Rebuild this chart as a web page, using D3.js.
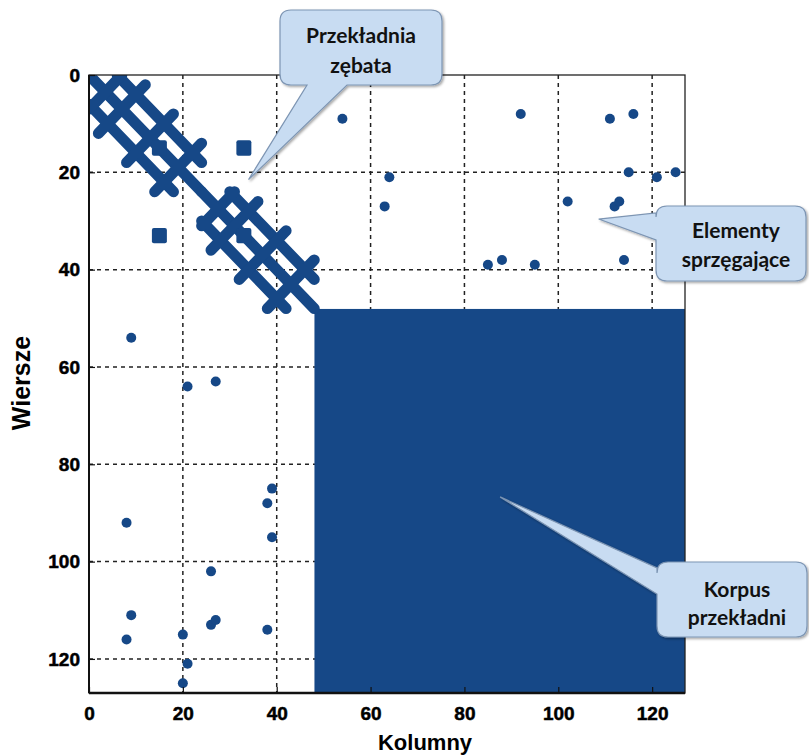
<!DOCTYPE html>
<html>
<head>
<meta charset="utf-8">
<script src="https://cdn.jsdelivr.net/npm/d3@7"></script>
<style>
  body { margin: 0; background: #ffffff; }
  .tick text { font-family: "Liberation Sans", Arial, sans-serif; font-weight: bold; }
</style>
</head>
<body>
<div id="chart"></div>
<script>
// size of the matrix (spy plot limits)
var nRows = 127, nCols = 127;
var xTicks = [0, 20, 40, 60, 80, 100, 120];
var yTicks = [0, 20, 40, 60, 80, 100, 120];

// runs of nonzeros along (anti)diagonals: [row0, col0, row1, col1]
var bandRuns = [
    // first gear block
    [0, 0, 24, 24], [0, 6, 18, 24], [6, 0, 24, 18],
    [7, 0, 0, 7], [12, 2, 2, 12], [18, 8, 8, 18], [24, 14, 14, 24],
    // second gear block
    [24, 24, 48, 48], [24, 30, 42, 48], [30, 24, 48, 42],
    [31, 24, 24, 31], [36, 26, 26, 36], [42, 32, 32, 42], [48, 38, 38, 48]
];

// small dense blocks: [row0, row1, col0, col1]
var smallBlocks = [[14, 16, 14, 16], [14, 16, 32, 34], [32, 34, 14, 16], [32, 34, 32, 34]];

// gearbox housing block: [row0, row1, col0, col1]
var bodyBlock = [49, 126, 49, 126];

// coupling elements (single entries)
var couplingRows = [9, 8, 9, 8, 21, 27, 20, 21, 20, 26, 27, 26, 39, 38, 39, 38,
                    54, 64, 63, 85, 88, 95, 92, 102, 111, 116, 113, 112, 114, 115, 121, 125];
var couplingCols = [54, 92, 111, 116, 64, 63, 115, 121, 125, 102, 112, 113, 85, 88, 95, 114,
                    9, 21, 27, 39, 38, 39, 8, 26, 9, 8, 26, 27, 38, 20, 21, 20];

// callouts: text, box in page pixels, pointer tip in matrix coords (col, row)
var notes = [
    { lines: ["Przekładnia", "zębata"], box: [280, 10, 162, 75], side: "bottom", base: [307, 347], tip: [34, 21.5], ty: [43, 73] },
    { lines: ["Elementy", "sprzęgające"], box: [656, 206, 150, 75], side: "left", base: [213, 240], tip: [108.6, 29.6], ty: [238, 267] },
    { lines: ["Korpus", "przekładni"], box: [657, 562, 150, 75], side: "left", base: [568, 594], tip: [87.6, 86.7], ty: [597, 625] }
];

var W = 809, H = 755;
var margin = { top: 75, right: 124, bottom: 62, left: 89 },
    width = W - margin.left - margin.right,
    height = H - margin.top - margin.bottom;

var x = d3.scaleLinear().domain([0, nCols]).range([0, width]);
var y = d3.scaleLinear().domain([0, nRows]).range([0, height]);

var markColor = "#164887";
var rad = 5;

var root = d3.select("#chart").append("svg")
    .attr("width", W)
    .attr("height", H);

var defs = root.append("defs");
defs.append("clipPath").attr("id", "plotclip")
    .append("rect").attr("width", width).attr("height", height);
var sh = defs.append("filter").attr("id", "shadow")
    .attr("x", "-10%").attr("y", "-10%").attr("width", "130%").attr("height", "130%");
sh.append("feDropShadow").attr("dx", 1.5).attr("dy", 1.5)
    .attr("stdDeviation", 1.2).attr("flood-color", "#000").attr("flood-opacity", 0.35);

var svg = root.append("g")
    .attr("transform", "translate(" + margin.left + "," + margin.top + ")");

// grid
svg.append("g")
    .selectAll("line")
    .data(xTicks.filter(function (d) { return d > 0; }))
    .enter().append("line")
    .attr("x1", function (d) { return x(d); })
    .attr("x2", function (d) { return x(d); })
    .attr("y1", 0).attr("y2", height)
    .attr("stroke", "#222").attr("stroke-width", 1.5)
    .attr("stroke-dasharray", "4,4");
svg.append("g")
    .selectAll("line")
    .data(yTicks.filter(function (d) { return d > 0; }))
    .enter().append("line")
    .attr("y1", function (d) { return y(d); })
    .attr("y2", function (d) { return y(d); })
    .attr("x1", 0).attr("x2", width)
    .attr("stroke", "#222").attr("stroke-width", 1.5)
    .attr("stroke-dasharray", "4,4");

var marks = svg.append("g").attr("clip-path", "url(#plotclip)");

// housing block
marks.append("rect")
    .attr("x", x(bodyBlock[2]) - 4.5)
    .attr("y", y(bodyBlock[0]) - 4.5)
    .attr("width", x(bodyBlock[3]) - x(bodyBlock[2]) + 10)
    .attr("height", y(bodyBlock[1]) - y(bodyBlock[0]) + 10)
    .attr("fill", markColor);

// gear band
marks.selectAll("line.run")
    .data(bandRuns)
    .enter().append("line")
    .attr("x1", function (d) { return x(d[1]); })
    .attr("y1", function (d) { return y(d[0]); })
    .attr("x2", function (d) { return x(d[3]); })
    .attr("y2", function (d) { return y(d[2]); })
    .attr("stroke", markColor)
    .attr("stroke-width", 11)
    .attr("stroke-linecap", "round");

// small blocks
marks.selectAll("rect.sb")
    .data(smallBlocks)
    .enter().append("rect")
    .attr("x", function (d) { return x(d[2]) - 2.8; })
    .attr("y", function (d) { return y(d[0]) - 2.8; })
    .attr("width", function (d) { return x(d[3]) - x(d[2]) + 5.6; })
    .attr("height", function (d) { return y(d[1]) - y(d[0]) + 5.6; })
    .attr("rx", 2)
    .attr("fill", markColor);

// coupling dots
marks.selectAll("circle")
    .data(couplingRows.map(function (r, i) { return [r, couplingCols[i]]; }))
    .enter().append("circle")
    .attr("cx", function (d) { return x(d[1]); })
    .attr("cy", function (d) { return y(d[0]); })
    .attr("r", rad)
    .attr("fill", markColor);

// frame
svg.append("rect")
    .attr("width", width).attr("height", height)
    .attr("fill", "none").attr("stroke", "#222").attr("stroke-width", 1.3);
svg.append("line").attr("x1", 0).attr("x2", 0).attr("y1", 0).attr("y2", height)
    .attr("stroke", "#111").attr("stroke-width", 2);
svg.append("line").attr("x1", 0).attr("x2", width).attr("y1", height).attr("y2", height)
    .attr("stroke", "#111").attr("stroke-width", 2.4);

// axes
var xAxis = svg.append("g")
    .attr("transform", "translate(0," + height + ")")
    .call(d3.axisBottom(x).tickValues(xTicks).tickSize(-6).tickPadding(14));
var yAxis = svg.append("g")
    .call(d3.axisLeft(y).tickValues(yTicks).tickSize(-6).tickPadding(9));
[xAxis, yAxis].forEach(function (a) {
    a.select(".domain").remove();
    a.selectAll(".tick line").attr("stroke", "#111").attr("stroke-width", 1.2);
    a.selectAll(".tick text").style("font-size", "19px").attr("fill", "#000")
        .attr("stroke", "#000").attr("stroke-width", 0.5);
});

// axis titles
root.append("text")
    .attr("x", margin.left + width / 2 + 38)
    .attr("y", 750)
    .attr("text-anchor", "middle")
    .style("font-family", "Liberation Sans, Arial, sans-serif")
    .style("font-weight", "bold")
    .style("font-size", "22px")
    .text("Kolumny");
root.append("text")
    .attr("transform", "translate(30,383) rotate(-90)")
    .attr("text-anchor", "middle")
    .style("font-family", "Liberation Sans, Arial, sans-serif")
    .style("font-weight", "bold")
    .style("font-size", "25px")
    .text("Wiersze");

// callouts
function calloutPath(n) {
    var bx = n.box[0], by = n.box[1], bw = n.box[2], bh = n.box[3], r = 11;
    var x0 = bx, y0 = by, x1 = bx + bw, y1 = by + bh;
    var tx = margin.left + x(n.tip[0]), ty = margin.top + y(n.tip[1]);
    var p = d3.path();
    p.moveTo(x0 + r, y0);
    p.lineTo(x1 - r, y0);
    p.quadraticCurveTo(x1, y0, x1, y0 + r);
    p.lineTo(x1, y1 - r);
    p.quadraticCurveTo(x1, y1, x1 - r, y1);
    if (n.side === "bottom") {
        p.lineTo(n.base[1], y1);
        p.lineTo(tx, ty);
        p.lineTo(n.base[0], y1);
    }
    p.lineTo(x0 + r, y1);
    p.quadraticCurveTo(x0, y1, x0, y1 - r);
    if (n.side === "left") {
        p.lineTo(x0, n.base[1]);
        p.lineTo(tx, ty);
        p.lineTo(x0, n.base[0]);
    }
    p.lineTo(x0, y0 + r);
    p.quadraticCurveTo(x0, y0, x0 + r, y0);
    p.closePath();
    return p.toString();
}

var callouts = root.selectAll("g.note")
    .data(notes)
    .enter().append("g");
callouts.append("path")
    .attr("d", calloutPath)
    .attr("fill", "#c8dcf2")
    .attr("stroke", "#7d95b3")
    .attr("stroke-width", 1.2)
    .attr("filter", "url(#shadow)");
callouts.each(function (n) {
    var g = d3.select(this);
    n.lines.forEach(function (t, i) {
        g.append("text")
            .attr("x", n.box[0] + n.box[2] / 2 + (n.side === "left" ? 5 : 0))
            .attr("y", n.ty[i])
            .attr("text-anchor", "middle")
            .style("font-family", "Lato, sans-serif")
            .style("font-weight", "bold")
            .style("font-size", "21px")
            .attr("fill", "#111")
            .text(t);
    });
});
</script>
</body>
</html>
